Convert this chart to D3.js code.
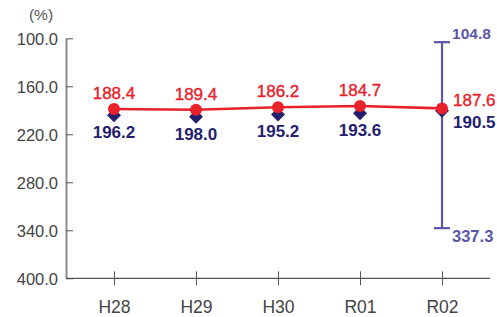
<!DOCTYPE html>
<html>
<head>
<meta charset="utf-8">
<script src="https://cdn.jsdelivr.net/npm/d3@7"></script>
<style>
  html, body { margin: 0; padding: 0; background: #fff; }
  svg text { font-family: "Liberation Sans", Arial, Helvetica, sans-serif; }
</style>
</head>
<body>
<svg id="chart"></svg>
<script>
// data
const years = ["H28", "H29", "H30", "R01", "R02"];
const redVals = [188.4, 189.4, 186.2, 184.7, 187.6];
const navyVals = [196.2, 198.0, 195.2, 193.6, 190.5];
const rangeYear = "R02";
const rangeVals = [104.8, 337.3];
const yTicks = [100, 160, 220, 280, 340, 400];

const width = 497;
const height = 317;
const plotLeft = 66, plotRight = 490, plotTop = 38.3, plotBottom = 278.3;

const RED = "#e8212b";
const NAVY = "#24206e";
const PURPLE = "#5b57a8";

const svg = d3.select("#chart").attr("width", width).attr("height", height);

const x = d3.scalePoint().domain(years).range([plotLeft, plotRight]).padding(0.585);
const y = d3.scaleLinear().domain([100, 400]).range([plotTop, plotBottom]);

// unit label
svg.append("text")
  .attr("x", 41).attr("y", 20)
  .attr("text-anchor", "middle")
  .attr("fill", "#555")
  .style("font-size", "15.5px")
  .text("(%)");

// y axis
const yAxis = svg.append("g")
  .attr("transform", "translate(" + plotLeft + ",0)")
  .call(d3.axisLeft(y).tickValues(yTicks).tickSize(-7).tickSizeOuter(0).tickPadding(8)
    .tickFormat(d3.format(".1f")));
yAxis.select(".domain").attr("stroke", "#8c8c8c").attr("stroke-width", 2);
yAxis.selectAll(".tick line").attr("stroke", "#555");
yAxis.selectAll(".tick text")
  .attr("fill", "#444")
  .attr("dy", "0.36em")
  .style("font-size", "16.5px");

// x axis
svg.append("line")
  .attr("x1", plotLeft).attr("x2", plotRight)
  .attr("y1", plotBottom).attr("y2", plotBottom)
  .attr("stroke", "#555").attr("stroke-width", 1.2);

const xAxis = svg.append("g")
  .attr("transform", "translate(0," + plotBottom + ")")
  .call(d3.axisBottom(x).tickSize(7).tickSizeOuter(0));
xAxis.select(".domain").remove();
xAxis.selectAll(".tick line").attr("y1", -7).attr("stroke", "#555");
xAxis.selectAll(".tick text")
  .attr("y", 34.5).attr("dy", 0)
  .attr("fill", "#444")
  .style("font-size", "17.5px");

// range bar
const rx = x(rangeYear);
const range = svg.append("g").attr("stroke", PURPLE).attr("stroke-width", 2.2);
range.append("line").attr("x1", rx).attr("x2", rx)
  .attr("y1", y(rangeVals[0])).attr("y2", y(rangeVals[1]));
rangeVals.forEach(v => {
  range.append("line").attr("x1", rx - 8).attr("x2", rx + 8)
    .attr("y1", y(v)).attr("y2", y(v));
});
svg.append("text")
  .attr("x", rx + 10).attr("y", y(rangeVals[0]) - 3)
  .attr("fill", PURPLE).attr("font-weight", "bold")
  .style("font-size", "15.5px")
  .text(rangeVals[0].toFixed(1));
svg.append("text")
  .attr("x", rx + 10).attr("y", y(rangeVals[1]) + 13.5)
  .attr("fill", PURPLE).attr("font-weight", "bold")
  .style("font-size", "16.5px")
  .text(rangeVals[1].toFixed(1));

// navy diamonds
svg.selectAll(".diamond")
  .data(navyVals)
  .enter().append("path")
  .attr("class", "diamond")
  .attr("d", d3.symbol().type(d3.symbolSquare).size(98))
  .attr("transform", (d, i) => "translate(" + x(years[i]) + "," + y(d) + ") rotate(45)")
  .attr("fill", NAVY);

// red line
const line = d3.line().x((d, i) => x(years[i])).y(d => y(d));
svg.append("path")
  .datum(redVals)
  .attr("d", line)
  .attr("fill", "none")
  .attr("stroke", RED)
  .attr("stroke-width", 2.6);

svg.selectAll(".dot")
  .data(redVals)
  .enter().append("circle")
  .attr("class", "dot")
  .attr("cx", (d, i) => x(years[i]))
  .attr("cy", d => y(d))
  .attr("r", 6)
  .attr("fill", RED);

// value labels
const last = years.length - 1;
svg.selectAll(".redLabel")
  .data(redVals)
  .enter().append("text")
  .attr("class", "redLabel")
  .attr("x", (d, i) => i === last ? x(years[i]) + 11 : x(years[i]))
  .attr("y", (d, i) => i === last ? y(d) - 2.5 : y(d) - 10)
  .attr("text-anchor", (d, i) => i === last ? "start" : "middle")
  .attr("fill", RED)
  .attr("stroke", RED)
  .attr("stroke-width", 0.4)
  .style("font-size", "17px")
  .text(d => d.toFixed(1));

svg.selectAll(".navyLabel")
  .data(navyVals)
  .enter().append("text")
  .attr("class", "navyLabel")
  .attr("x", (d, i) => i === last ? x(years[i]) + 11 : x(years[i]))
  .attr("y", (d, i) => i === last ? y(d) + 17.6 : y(d) + 23)
  .attr("text-anchor", (d, i) => i === last ? "start" : "middle")
  .attr("fill", NAVY)
  .attr("font-weight", "bold")
  .style("font-size", "17px")
  .text(d => d.toFixed(1));
</script>
</body>
</html>
